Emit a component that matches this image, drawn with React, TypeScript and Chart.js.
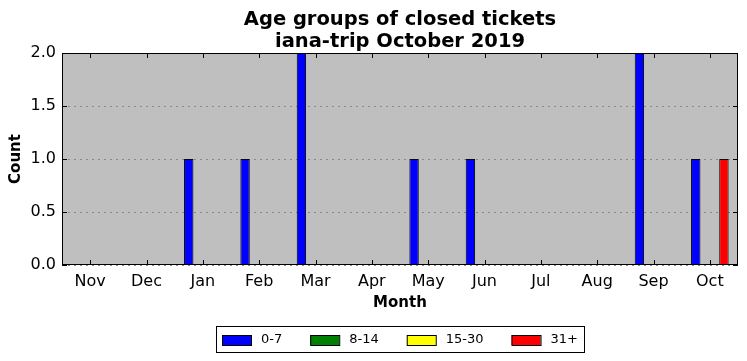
import React, { useEffect, useRef } from "react";
import { Chart, registerables } from "chart.js";

Chart.register(...registerables);

const months = ["Nov", "Dec", "Jan", "Feb", "Mar", "Apr", "May", "Jun", "Jul", "Aug", "Sep", "Oct"];
const age0to7 = [0, 0, 1, 1, 2, 0, 1, 1, 0, 0, 2, 1];
const age8to14 = [0, 0, 0, 0, 0, 0, 0, 0, 0, 0, 0, 0];
const age15to30 = [0, 0, 0, 0, 0, 0, 0, 0, 0, 0, 0, 0];
const age31plus = [0, 0, 0, 0, 0, 0, 0, 0, 0, 0, 0, 1];
const seriesLabels = ["0-7", "8-14", "15-30", "31+"];
const seriesColors = ["#0000ff", "#008000", "#ffff00", "#ff0000"];
const titleLines = ["Age groups of closed tickets", "iana-trip October 2019"];
const xTitle = "Month";
const yTitle = "Count";
const yMin = 0;
const yMax = 2;
const yStep = 0.5;

const FONT = "'DejaVu Sans', sans-serif";

const decorPlugin = {
  id: "decor",
  beforeDraw(chart: any) {
    const { ctx, chartArea: a } = chart;
    ctx.save();
    ctx.fillStyle = "#ffffff";
    ctx.fillRect(0, 0, chart.width, chart.height);
    ctx.fillStyle = "#bfbfbf";
    ctx.fillRect(a.left, a.top, a.right - a.left, a.bottom - a.top);
    const ys = chart.scales.y;
    ctx.strokeStyle = "#8a8a8a";
    ctx.lineWidth = 1;
    ctx.setLineDash([2, 4]);
    ys.ticks.forEach((t: any) => {
      const py = Math.round(ys.getPixelForValue(t.value)) + 0.5;
      ctx.beginPath();
      ctx.moveTo(a.left, py);
      ctx.lineTo(a.right, py);
      ctx.stroke();
    });
    ctx.restore();
  },
  afterDraw(chart: any) {
    const { ctx, chartArea: a } = chart;
    const xs = chart.scales.x;
    const ys = chart.scales.y;
    ctx.save();
    ctx.strokeStyle = "#000";
    ctx.lineWidth = 1;
    ctx.setLineDash([]);
    ctx.strokeRect(Math.round(a.left) + 0.5, Math.round(a.top) + 0.5, Math.round(a.right - a.left) - 1, Math.round(a.bottom - a.top) - 1);
    const tl = 5;
    ctx.beginPath();
    xs.ticks.forEach((_t: any, i: number) => {
      const px = Math.round(xs.getPixelForTick(i)) + 0.5;
      ctx.moveTo(px, a.bottom);
      ctx.lineTo(px, a.bottom - tl);
      ctx.moveTo(px, a.top);
      ctx.lineTo(px, a.top + tl);
    });
    ys.ticks.forEach((t: any) => {
      const py = Math.round(ys.getPixelForValue(t.value)) + 0.5;
      ctx.moveTo(a.left, py);
      ctx.lineTo(a.left + tl, py);
      ctx.moveTo(a.right, py);
      ctx.lineTo(a.right - tl, py);
    });
    ctx.stroke();

    ctx.fillStyle = "#000";
    ctx.textAlign = "center";
    ctx.textBaseline = "middle";
    ctx.font = `bold 19.5px ${FONT}`;
    const cx = (a.left + a.right) / 2;
    ctx.fillText(titleLines[0], cx, 20);
    ctx.fillText(titleLines[1], cx, 42);

    ctx.font = `bold 15px ${FONT}`;
    ctx.fillText(xTitle, cx, 303);
    ctx.save();
    ctx.translate(16, (a.top + a.bottom) / 2);
    ctx.rotate(-Math.PI / 2);
    ctx.fillText(yTitle, 0, 0);
    ctx.restore();

    ctx.font = `13px ${FONT}`;
    const pad = 6, sw = 29, sh = 10, gapText = 10, gapItem = 28;
    const widths = chart.data.datasets.map((d: any) => ctx.measureText(d.label).width);
    let total = pad * 2;
    widths.forEach((w: number, i: number) => {
      total += sw + gapText + w + (i > 0 ? gapItem : 0);
    });
    const bx = Math.round(cx - total / 2);
    const by = 326, bh = 26;
    ctx.strokeStyle = "#000";
    ctx.lineWidth = 1;
    ctx.strokeRect(bx + 0.5, by + 0.5, Math.round(total), bh);
    let x = bx + pad;
    const my = by + bh / 2 + 1;
    ctx.textAlign = "left";
    chart.data.datasets.forEach((d: any, i: number) => {
      ctx.fillStyle = d.backgroundColor;
      ctx.fillRect(x, Math.round(my - sh / 2), sw, sh);
      ctx.strokeRect(x + 0.5, Math.round(my - sh / 2) + 0.5, sw, sh);
      ctx.fillStyle = "#000";
      ctx.fillText(d.label, x + sw + gapText, my);
      x += sw + gapText + widths[i] + gapItem;
    });
    ctx.restore();
  },
};

export default function App() {
  const ref = useRef<HTMLCanvasElement | null>(null);
  useEffect(() => {
    document.body.style.margin = "0";
    const canvas = ref.current!;
    const seriesData = [age0to7, age8to14, age15to30, age31plus];
    const chart = new Chart(canvas, {
      type: "bar",
      data: {
        labels: months,
        datasets: seriesData.map((d, i) => ({
          label: seriesLabels[i],
          data: d,
          backgroundColor: seriesColors[i],
          borderColor: "#000000",
          borderWidth: 1,
          borderSkipped: false,
          categoryPercentage: 0.667,
          barPercentage: 1,
        })),
      },
      options: {
        responsive: false,
        animation: false,
        devicePixelRatio: 1,
        layout: { padding: { left: 0, top: 53, right: 9, bottom: 0 } },
        plugins: { legend: { display: false }, title: { display: false }, tooltip: { enabled: false } },
        scales: {
          x: {
            type: "category",
            offset: true,
            grid: { display: false, drawTicks: false },
            border: { display: false },
            ticks: { color: "#000", font: { family: FONT, size: 16 }, padding: 7, maxRotation: 0, autoSkip: false },
            afterFit: (s: any) => { s.height = 96; },
          },
          y: {
            min: yMin,
            max: yMax,
            grid: { display: false, drawTicks: false },
            border: { display: false },
            ticks: {
              stepSize: yStep,
              color: "#000",
              font: { family: FONT, size: 16 },
              padding: 6,
              callback: (v: any) => Number(v).toFixed(1),
            },
            afterFit: (s: any) => { s.width = 62; },
          },
        },
      },
      plugins: [decorPlugin],
    });
    return () => chart.destroy();
  }, []);
  return <canvas ref={ref} width={747} height={361} style={{ display: "block" }} />;
}
